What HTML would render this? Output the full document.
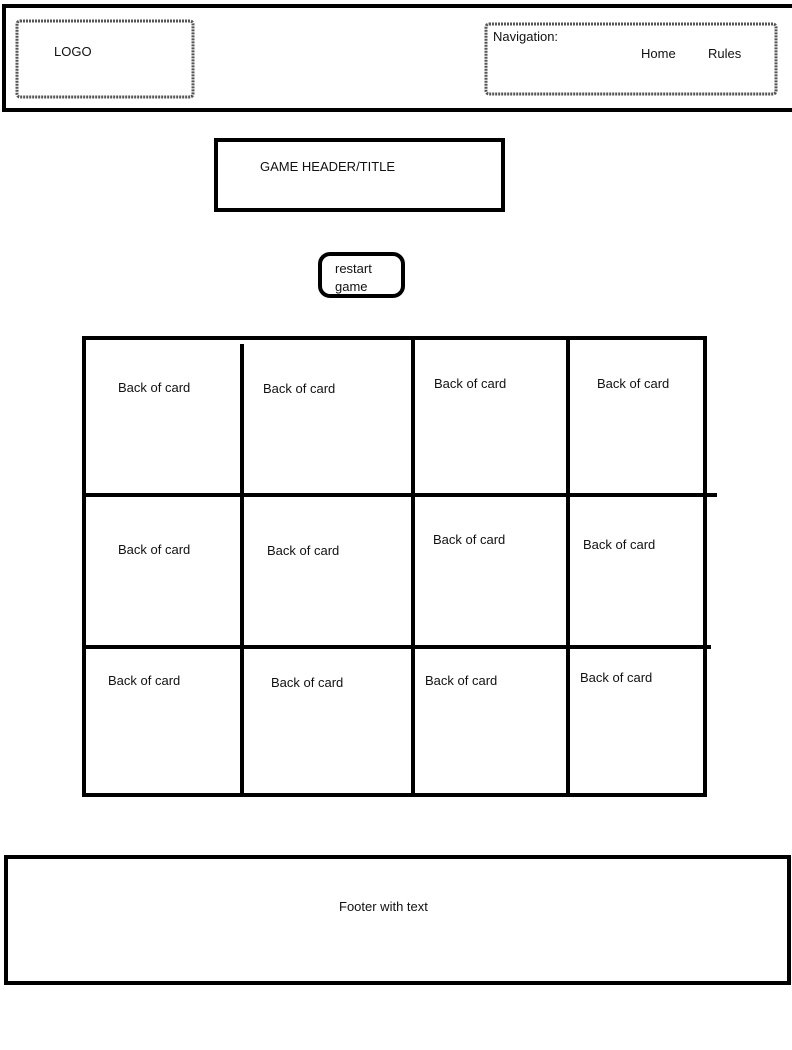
<!DOCTYPE html>
<html><head><style>
html,body{margin:0;padding:0;background:#fff;width:792px;height:1050px;overflow:hidden}
svg{display:block}
text{font-family:"Liberation Sans",sans-serif;font-size:13px;fill:#111}
</style></head><body>
<svg width="792" height="1050" viewBox="0 0 792 1050">
<!-- header outer -->
<path d="M4 112 L4 6 L792 6 M4 110 L792 110" stroke="#000" stroke-width="4" fill="none"/>
<line x1="779" y1="6" x2="779" y2="6" stroke="#000"/>
<!-- logo box -->
<rect x="17" y="21" width="176" height="76" rx="3" fill="none" stroke="#555" stroke-width="3" stroke-dasharray="2 1"/>
<text x="54" y="56">LOGO</text>
<!-- nav box -->
<rect x="486" y="24" width="290" height="70" rx="3" fill="none" stroke="#555" stroke-width="3" stroke-dasharray="2 1"/>
<text x="493" y="41">Navigation:</text>
<text x="641" y="58">Home</text>
<text x="708" y="58">Rules</text>
<!-- game header -->
<rect x="216" y="140" width="287" height="70" fill="none" stroke="#000" stroke-width="4"/>
<text x="260" y="171">GAME HEADER/TITLE</text>
<!-- restart -->
<rect x="320" y="254" width="83" height="42" rx="10" fill="none" stroke="#000" stroke-width="4"/>
<text x="335" y="273">restart</text>
<text x="335" y="291">game</text>
<!-- grid -->
<rect x="84" y="338" width="621" height="457" fill="none" stroke="#000" stroke-width="4"/>
<line x1="242" y1="344" x2="242" y2="795" stroke="#000" stroke-width="4"/>
<line x1="413" y1="338" x2="413" y2="795" stroke="#000" stroke-width="4"/>
<line x1="568" y1="338" x2="568" y2="795" stroke="#000" stroke-width="4"/>
<line x1="84" y1="495" x2="717" y2="495" stroke="#000" stroke-width="4"/>
<line x1="84" y1="647" x2="711" y2="647" stroke="#000" stroke-width="4"/>
<text x="118" y="392">Back of card</text>
<text x="263" y="393">Back of card</text>
<text x="434" y="388">Back of card</text>
<text x="597" y="388">Back of card</text>
<text x="118" y="554">Back of card</text>
<text x="267" y="555">Back of card</text>
<text x="433" y="544">Back of card</text>
<text x="583" y="549">Back of card</text>
<text x="108" y="685">Back of card</text>
<text x="271" y="687">Back of card</text>
<text x="425" y="685">Back of card</text>
<text x="580" y="682">Back of card</text>
<!-- footer -->
<rect x="6" y="857" width="783" height="126" fill="none" stroke="#000" stroke-width="4"/>
<text x="339" y="911">Footer with text</text>
</svg>
</body></html>
